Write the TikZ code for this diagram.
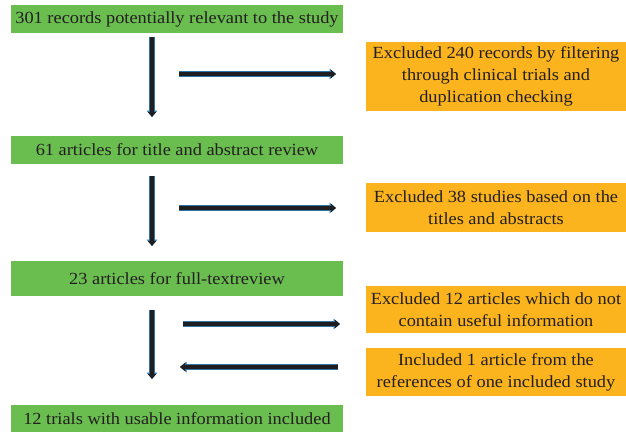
\documentclass[tikz,border=0pt]{standalone}
\usepackage{fontspec}
\setmainfont{Liberation Serif}[FakeStretch=1.08]
\usetikzlibrary{arrows.meta}
\definecolor{boxgreen}{RGB}{106,189,79}
\definecolor{boxorange}{RGB}{251,180,29}
\definecolor{textdark}{RGB}{35,31,32}
\definecolor{arrowblue}{RGB}{46,117,168}
\definecolor{arrowblack}{RGB}{30,30,32}
\tikzset{
  greenbox/.style={fill=boxgreen, draw=none, minimum width=332pt, inner sep=0pt, text=textdark, font=\fontsize{17}{20}\selectfont},
  orangebox/.style={fill=boxorange, draw=none, minimum width=260pt, inner sep=0pt, text=textdark, align=center, font=\fontsize{17}{22}\selectfont},
  flowarrow/.style={preaction={draw=arrowblue, line width=5.6pt, -{Triangle[length=6.5pt,width=10.5pt]}},
    draw=arrowblack, line width=3.4pt, shorten >=1pt, -{Triangle[length=5pt,width=8pt]}}
}
\begin{document}
\begin{tikzpicture}[x=1pt,y=-1pt]
\useasboundingbox (0,0) rectangle (626,432);
\node[greenbox, minimum height=28pt] (g1) at (177,19) {301 records potentially relevant to the study};
\node[greenbox, minimum height=28pt] (g2) at (177,150) {61 articles for title and abstract review};
\node[greenbox, minimum height=35pt] (g3) at (177,278.5) {23 articles for full-textreview};
\node[greenbox, minimum height=27pt] (g4) at (177,418.5) {12 trials with usable information included};
\node[orangebox, minimum height=69pt] (o1) at (496,76.5) {Excluded 240 records by filtering\\through clinical trials and\\duplication checking};
\node[orangebox, minimum height=49pt] (o2) at (496,207.5) {Excluded 38 studies based on the\\titles and abstracts};
\node[orangebox, minimum height=47pt] (o3) at (496,309.5) {Excluded 12 articles which do not\\contain useful information};
\node[orangebox, minimum height=48pt] (o4) at (496,372) {Included 1 article from the\\references of one included study};
\coordinate (v1s) at (152,37); \coordinate (v1e) at (152,118);
\coordinate (h1s) at (179,74); \coordinate (h1e) at (337,74);
\coordinate (v2s) at (152,176); \coordinate (v2e) at (152,247);
\coordinate (h2s) at (179,208); \coordinate (h2e) at (337,208);
\coordinate (v3s) at (152,310); \coordinate (v3e) at (152,380);
\coordinate (h3s) at (183,324); \coordinate (h3e) at (341,324);
\coordinate (h4s) at (338,367); \coordinate (h4e) at (179,367);
\draw[flowarrow] (v1s) -- (v1e);
\draw[flowarrow] (h1s) -- (h1e);
\draw[flowarrow] (v2s) -- (v2e);
\draw[flowarrow] (h2s) -- (h2e);
\draw[flowarrow] (v3s) -- (v3e);
\draw[flowarrow] (h3s) -- (h3e);
\draw[flowarrow] (h4s) -- (h4e);
\end{tikzpicture}
\end{document}
